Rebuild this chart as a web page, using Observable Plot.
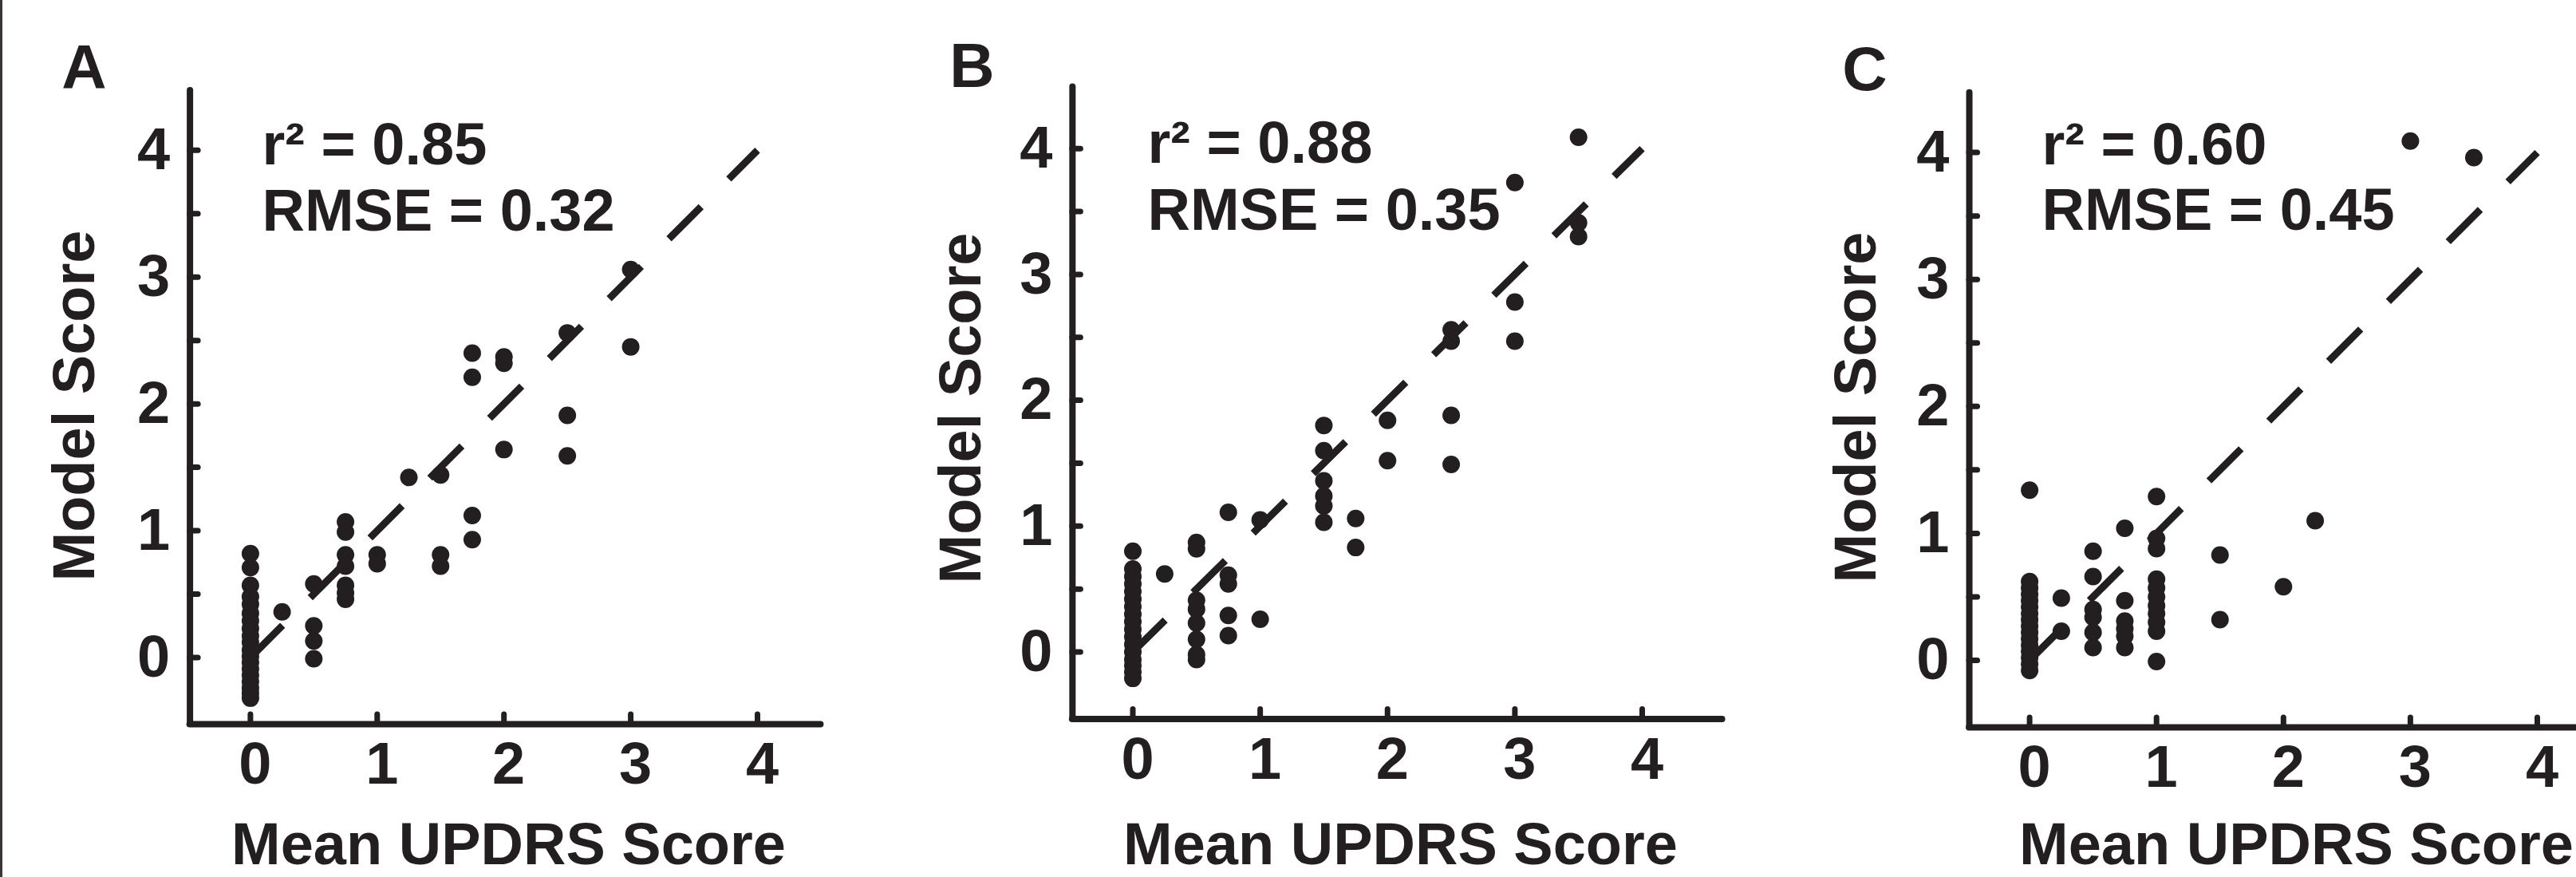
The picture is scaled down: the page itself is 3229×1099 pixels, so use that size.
<!DOCTYPE html>
<html>
<head>
<meta charset="utf-8">
<script src="https://cdn.jsdelivr.net/npm/d3@7"></script>
<script src="https://cdn.jsdelivr.net/npm/@observablehq/plot@0.6"></script>
<style>
  html, body { margin: 0; padding: 0; background: #ffffff; }
  #chart { position: relative; width: 3229px; height: 1099px; overflow: hidden; background: #ffffff; }
  #chart .layer { position: absolute; left: 0; top: 0; }
  #edge { position: absolute; left: 0; top: 0; width: 3px; height: 1099px; background: #3a3637; }
</style>
</head>
<body>
<div id="chart"><div id="edge"></div></div>
<script>
// ---------------- data ----------------
const panelLabels = ["A", "B", "C"];
const r2Values = ["0.85", "0.88", "0.60"];
const rmseValues = ["0.32", "0.35", "0.45"];
const xTickValues = [0, 1, 2, 3, 4];
const yTickValues = [0, 1, 2, 3, 4];
const yTickMarks = [0, 0.5, 1, 1.5, 2, 2.5, 3, 3.5, 4];
const identityLine = [0, 4];
const xAxisTitle = "Mean UPDRS Score";
const yAxisTitle = "Model Score";

// Panel A
const aMean = [
  0,0,0,0,0,0,0,0,0,0,0,0,0,0,0,0,0,0,0,
  0.25,
  0.5,0.5,0.5,0.5,
  0.75,0.75,0.75,0.75,0.75,0.75,0.75,
  1,1,
  1.25,
  1.5,1.5,1.5,
  1.75,1.75,1.75,1.75,
  2,2,2,
  2.5,2.5,2.5,
  3,3
];
const aModel = [
  0.82,0.71,0.57,0.48,0.42,0.35,0.29,0.23,0.17,0.12,0.06,0.01,-0.04,-0.09,-0.14,-0.19,-0.24,-0.28,-0.32,
  0.36,
  0.58,0.25,0.13,-0.01,
  1.07,0.99,0.81,0.72,0.57,0.51,0.46,
  0.81,0.74,
  1.42,
  1.44,0.81,0.72,
  2.40,2.21,1.12,0.93,
  2.37,2.32,1.64,
  2.56,1.91,1.59,
  3.06,2.45
];

// Panel B
const bMean = [
  0,0,0,0,0,0,0,0,0,0,0,0,0,0,0,0,0,
  0.25,
  0.5,0.5,0.5,0.5,0.5,0.5,0.5,0.5,
  0.75,0.75,0.75,0.75,0.75,
  1,1,
  1.5,1.5,1.5,1.5,1.5,1.5,
  1.75,1.75,
  2,2,
  2.5,2.5,2.5,2.5,
  3,3,3,
  3.5,3.5,3.5
];
const bModel = [
  0.80,0.66,0.60,0.54,0.48,0.42,0.36,0.30,0.24,0.18,0.12,0.06,0.00,-0.06,-0.11,-0.16,-0.21,
  0.62,
  0.87,0.82,0.41,0.34,0.23,0.10,-0.02,-0.06,
  1.11,0.61,0.54,0.29,0.13,
  1.05,0.26,
  1.80,1.60,1.36,1.24,1.16,1.03,
  1.06,0.83,
  1.84,1.52,
  2.56,2.47,1.88,1.49,
  3.73,2.78,2.47,
  4.09,3.41,3.30
];

// Panel C
const cMean = [
  0,0,0,0,0,0,0,0,0,0,0,0,0,0,0,0,
  0.25,0.25,
  0.5,0.5,0.5,0.5,0.5,0.5,
  0.75,0.75,0.75,0.75,0.75,0.75,
  1,1,1,1,1,1,1,1,1,1,1,
  1.5,1.5,
  2,
  2.25,
  3,
  3.5
];
const cModel = [
  1.34,0.62,0.57,0.52,0.47,0.42,0.37,0.32,0.27,0.22,0.17,0.12,0.07,0.02,-0.03,-0.08,
  0.49,0.23,
  0.86,0.66,0.40,0.34,0.22,0.10,
  1.04,0.47,0.31,0.25,0.19,0.10,
  1.29,0.96,0.88,0.64,0.57,0.50,0.43,0.37,0.30,0.23,-0.01,
  0.83,0.32,
  0.58,
  1.10,
  4.09,
  3.96
];

// ---------------- layout (page pixels) ----------------
const ink = "#231f20";
const font = "'Liberation Sans', Arial, Helvetica, sans-serif";
const layouts = [
  {x0: 313.4, x4: 949.0, y0: 823.5, y4: 187.8, xAxis: -0.477, xEnd: 4.50, yAxis: -0.525, yEnd: 4.47,
   letter: [105, 110], stats: [328, 205, 288], xTitle: [637, 1082], yTitle: [117, 508]},
  {x0: 1419.5, x4: 2058.0, y0: 816.5, y4: 185.7, xAxis: -0.474, xEnd: 4.63, yAxis: -0.533, yEnd: 4.49,
   letter: [1218, 108], stats: [1438, 203, 287], xTitle: [1755, 1082], yTitle: [1228, 511]},
  {x0: 2543.6, x4: 3180.0, y0: 827.0, y4: 190.6, xAxis: -0.475, xEnd: 5.20, yAxis: -0.528, yEnd: 4.47,
   letter: [2337, 112], stats: [2559, 205, 287], xTitle: [2878, 1082], yTitle: [2350, 510]}
];
const panelData = [
  {mean: aMean, model: aModel},
  {mean: bMean, model: bModel},
  {mean: cMean, model: cModel}
];

function annot(str, px, py, extra) {
  return Plot.text([str], Object.assign({
    frameAnchor: "top-left", dx: px, dy: py, text: d => d,
    fontSize: 74, fontWeight: "bold", fill: ink, lineAnchor: "bottom", textAnchor: "start"
  }, extra || {}));
}

const chart = document.getElementById("chart");

panelLabels.forEach((label, i) => {
  const L = layouts[i];
  const pts = panelData[i].mean.map((m, k) => ({mean: m, model: panelData[i].model[k]}));
  const plot = Plot.plot({
    width: 3229,
    height: 1099,
    marginLeft: 0, marginRight: 0, marginTop: 0, marginBottom: 0,
    style: {background: "transparent", fontFamily: font, overflow: "visible"},
    x: {type: "linear", domain: [0, 4], range: [L.x0, L.x4], axis: null},
    y: {type: "linear", domain: [0, 4], range: [L.y0, L.y4], axis: null},
    marks: [
      // axis lines
      Plot.ruleX([L.xAxis], {x: d => d, y1: L.yAxis, y2: L.yEnd, stroke: ink, strokeWidth: 8, strokeLinecap: "round"}),
      Plot.ruleY([L.yAxis], {y: d => d, x1: L.xAxis, x2: L.xEnd, stroke: ink, strokeWidth: 8, strokeLinecap: "round"}),
      // inward ticks
      Plot.ruleY(yTickMarks, {y: d => d, x1: L.xAxis, x2: L.xAxis, insetRight: -10.5, stroke: ink, strokeWidth: 7, strokeLinecap: "round"}),
      Plot.ruleX(xTickValues, {x: d => d, y1: L.yAxis, y2: L.yAxis, insetBottom: 12, stroke: ink, strokeWidth: 7, strokeLinecap: "round"}),
      // tick labels
      Plot.text(yTickValues, {x: L.xAxis, y: d => d, text: d => String(d), textAnchor: "end", dx: -25,
        fontSize: 74, fontWeight: "bold", fill: ink}),
      Plot.text(xTickValues, {x: d => d, y: L.yAxis, text: d => String(d), lineAnchor: "top", dy: 22, dx: 6,
        fontSize: 74, fontWeight: "bold", fill: ink}),
      // identity line
      Plot.line(identityLine, {x: d => d, y: d => d, stroke: ink, strokeWidth: 9,
        strokeDasharray: "57,49", strokeLinecap: "butt"}),
      // points
      Plot.dot(pts, {x: "mean", y: "model", r: 11, fill: ink, stroke: null}),
      // annotations
      annot(label, L.letter[0], L.letter[1], {fontSize: 78, textAnchor: "middle"}),
      annot(`r\u00b2 = ${r2Values[i]}`, L.stats[0], L.stats[1]),
      annot(`RMSE = ${rmseValues[i]}`, L.stats[0], L.stats[2]),
      annot(xAxisTitle, L.xTitle[0], L.xTitle[1], {textAnchor: "middle"}),
      annot(yAxisTitle, L.yTitle[0], L.yTitle[1], {textAnchor: "middle", rotate: -90})
    ]
  });
  plot.classList.add("layer");
  chart.appendChild(plot);
});
</script>
</body>
</html>
